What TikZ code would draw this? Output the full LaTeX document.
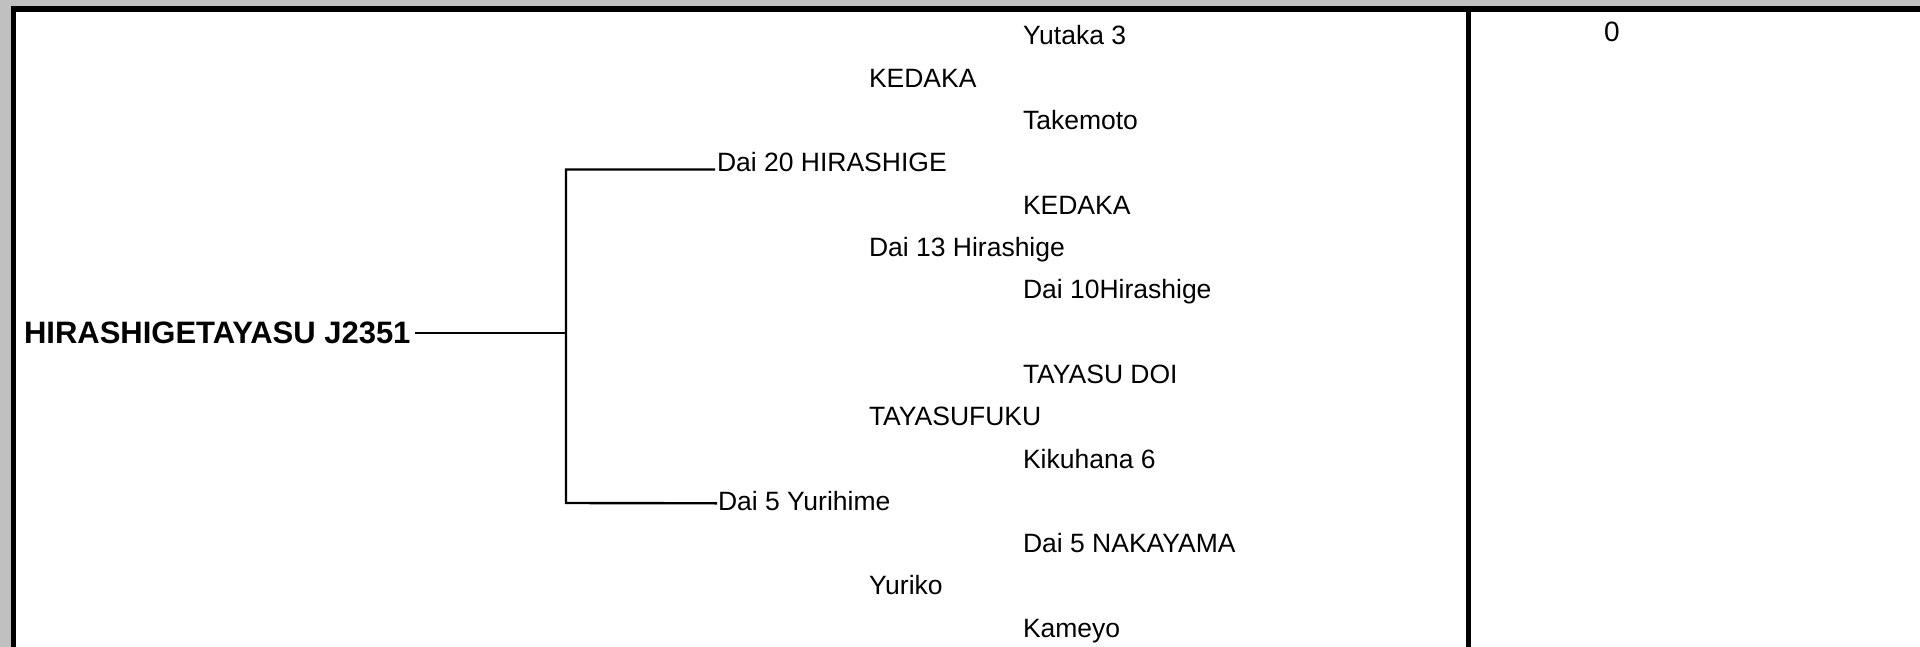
\documentclass[tikz,border=0pt]{standalone}
\usepackage{fontspec}
\setmainfont{Liberation Sans}
\definecolor{framegray}{RGB}{192,192,192}
\tikzset{
  pname/.style={anchor=base west, inner sep=0pt, outer sep=0pt, font=\fontsize{26.5}{30}\selectfont},
  subject/.style={anchor=base west, inner sep=0pt, outer sep=0pt, font=\fontsize{31}{36}\selectfont\bfseries},
  link/.style={line width=2.4pt, line cap=rect}
}
\begin{document}
\begin{tikzpicture}[x=1pt,y=-1pt]
\useasboundingbox (0,0) rectangle (1920,647);
% background and frame
\fill[framegray] (0,0) rectangle (1920,647);
\fill[white] (16,12.5) rectangle (1920,647);
\fill[black] (11,6.5) rectangle (1920,12.5);
\fill[black] (11,6.5) rectangle (16,647);
\fill[black] (1466,12.5) rectangle (1471,647);
% right column value
\node[pname, font=\fontsize{28}{32}\selectfont] (val) at (1604,42) {0};
% subject
\node[subject] (s) at (24,343) {HIRASHIGETAYASU J2351};
% parents
\node[pname] (p1) at (717,172) {Dai 20 HIRASHIGE};
\node[pname] (p2) at (718,510.3) {Dai 5 Yurihime};
% grandparents
\node[pname] (g1) at (869,87.3) {KEDAKA};
\node[pname] (g2) at (869,256.5) {Dai 13 Hirashige};
\node[pname] (g3) at (869,425.7) {TAYASUFUKU};
\node[pname] (g4) at (869,594.9) {Yuriko};
% great-grandparents
\node[pname] (e1) at (1023,45) {Yutaka 3};
\node[pname] (e2) at (1023,129.6) {Takemoto};
\node[pname] (e3) at (1023,214.2) {KEDAKA};
\node[pname] (e4) at (1023,298.8) {Dai 10Hirashige};
\node[pname] (e5) at (1023,383.4) {TAYASU DOI};
\node[pname] (e6) at (1023,468) {Kikuhana 6};
\node[pname] (e7) at (1023,552.6) {Dai 5 NAKAYAMA};
\node[pname] (e8) at (1023,637.2) {Kameyo};
% connectors
\coordinate (j) at (566,333);
\coordinate (j1) at (566,169.5);
\coordinate (j2) at (566,503);
\draw[link] ([xshift=6pt,yshift=10pt]s.base east) -- (j);
\draw[link] ([xshift=-3pt,yshift=2.5pt]p1.base west) -- (j1) -- (j2) -- ([xshift=-2pt,yshift=7pt]p2.base west);
\end{tikzpicture}
\end{document}
